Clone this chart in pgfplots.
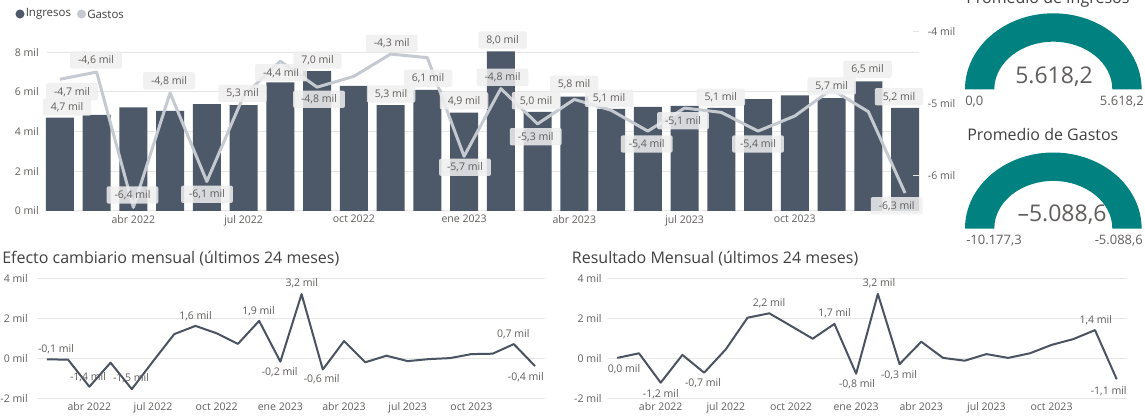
\documentclass[border=0pt]{standalone}
\usepackage{fontspec}
\setmainfont{Open Sans}
\usepackage{pgfplots}
\pgfplotsset{compat=1.18}
\definecolor{barc}{HTML}{4D5969}
\definecolor{gastc}{HTML}{C5CAD1}
\definecolor{linec}{HTML}{4A5361}
\definecolor{gridc}{HTML}{E6E6E6}
\definecolor{tickc}{HTML}{605E5C}
\definecolor{labc}{HTML}{605E5C}
\definecolor{boxc}{HTML}{EFEFEF}
\definecolor{titc}{HTML}{404040}
\definecolor{tealc}{HTML}{01817F}
\newcommand\fs[1]{\fontsize{#1}{#1}\selectfont}
\pgfplotsset{
  base/.style={scale only axis, anchor=south west, clip=false,
    axis line style={draw=none}, tick style={draw=none},
    grid style={gridc, line width=0.75pt}, ymajorgrids,
    ticklabel style={font=\fs{7.9pt}, text=tickc},
    xtick={2,5,8,11,14,17,20},
    xticklabels={abr 2022,jul 2022,oct 2022,ene 2023,abr 2023,jul 2023,oct 2023},
    xticklabel style={anchor=north, inner sep=0pt, yshift=-3pt}},
}
\tikzset{
  lbl/.style={font=\fs{7.9pt}, text=labc, fill=boxc, fill opacity=0.85, text opacity=1,
    rounded corners=1.5pt, inner xsep=6pt, inner ysep=2pt, text height=0.72em, text depth=0.18em},
  plb/.style={font=\fs{7.9pt}, text=labc, inner sep=0pt},
}
\begin{document}
\begin{tikzpicture}[x=0.75pt,y=-0.75pt]
\useasboundingbox (0,0) rectangle (1145,417);
\clip (0,0) rectangle (1145,417);

% ---------- top chart: Ingresos (bars) ----------
\begin{axis}[base, at={(35.25pt,-158.25pt)}, width=654pt, height=137.25pt,
  xmin=-0.35, xmax=23.38, ymin=0, ymax=9.22,
  ytick={0,2,4,6,8}, yticklabels={0 mil,2 mil,4 mil,6 mil,8 mil},
  yticklabel style={anchor=east, inner sep=0pt, xshift=-6pt}]
\addplot[ybar, bar width=21pt, fill=barc, draw=none] coordinates {
(0,4.70) (1,4.84) (2,5.22) (3,5.05) (4,5.39) (5,5.34) (6,6.48) (7,7.05)
(8,6.30) (9,5.34) (10,6.10) (11,4.95) (12,8.04) (13,5.00) (14,5.76) (15,5.14)
(16,5.25) (17,5.29) (18,5.19) (19,5.64) (20,5.83) (21,5.69) (22,6.53) (23,5.20)};
\end{axis}
% ---------- top chart: Gastos (line, right axis) ----------
\begin{axis}[base, at={(35.25pt,-158.25pt)}, width=654pt, height=137.25pt,
  xmin=-0.35, xmax=23.38, ymin=-6.49, ymax=-3.948, ymajorgrids=false,
  xtick=\empty, ytick={-6,-5,-4}, yticklabels={-6 mil,-5 mil,-4 mil},
  yticklabel pos=right, ytick pos=right,
  ytick style={draw=gridc, line width=0.75pt}, major tick length=4.5pt, tick align=inside,
  yticklabel style={anchor=west, inner sep=0pt, xshift=6.5pt}]
\addplot[gastc, line width=2.25pt, line join=round] coordinates {
(0,-4.66) (1,-4.56) (2,-6.44) (3,-4.85) (4,-6.08) (5,-4.89) (6,-4.41) (7,-4.77)
(8,-4.62) (9,-4.31) (10,-4.36) (11,-5.73) (12,-4.79) (13,-5.28) (14,-4.94) (15,-5.09)
(16,-5.38) (17,-5.06) (18,-5.12) (19,-5.38) (20,-5.17) (21,-4.80) (22,-5.11) (23,-6.24)};
\end{axis}

% data labels top chart
\node[lbl] at (72,91.7) {-4,7 mil};
\node[lbl] at (67,107) {4,7 mil};
\node[lbl] at (96,60) {-4,6 mil};
\node[lbl] at (132.5,195) {-6,4 mil};
\node[lbl] at (169,80.7) {-4,8 mil};
\node[lbl] at (207,194.3) {-6,1 mil};
\node[lbl] at (242.5,93.3) {5,3 mil};
\node[lbl] at (281,72.7) {-4,4 mil};
\node[lbl] at (317.5,60) {7,0 mil};
\node[lbl] at (319,99.3) {-4,8 mil};
\node[lbl] at (391.7,43.3) {-4,3 mil};
\node[lbl] at (391,94) {5,3 mil};
\node[lbl] at (428,78.3) {6,1 mil};
\node[lbl] at (464,100.7) {4,9 mil};
\node[lbl] at (465,167.3) {-5,7 mil};
\node[lbl] at (502.5,40) {8,0 mil};
\node[lbl] at (502.5,77.3) {-4,8 mil};
\node[lbl] at (536,100.7) {5,0 mil};
\node[lbl] at (535.7,136.7) {-5,3 mil};
\node[lbl] at (574,84.3) {5,8 mil};
\node[lbl] at (609,98.3) {5,1 mil};
\node[lbl] at (646.7,144) {-5,4 mil};
\node[lbl] at (683,120.7) {-5,1 mil};
\node[lbl] at (720.8,97.3) {5,1 mil};
\node[lbl] at (758,144) {-5,4 mil};
\node[lbl] at (831.7,86) {5,7 mil};
\node[lbl] at (867.5,69.3) {6,5 mil};
\node[lbl] at (899,96.7) {5,2 mil};
\node[lbl] at (896.7,205.7) {-6,3 mil};

% legend
\fill[barc] (20,14) circle[radius=3.4pt];
\node[anchor=west, inner sep=0pt, font=\fs{8.6pt}, text=titc] at (25.5,14) {Ingresos};
\fill[gastc] (81.5,14) circle[radius=3.4pt];
\node[anchor=west, inner sep=0pt, font=\fs{8.6pt}, text=titc] at (87,14) {Gastos};

% ---------- bottom left ----------
\node[anchor=west, inner sep=0pt, font=\fs{12pt}, text=titc] at (2,259) {Efecto cambiario mensual (últimos 24 meses)};
\begin{axis}[base, at={(28.5pt,-298.725pt)}, width=380.25pt, height=90pt,
  xmin=-0.42, xmax=23.47, ymin=-2, ymax=4,
  ytick={-2,0,2,4}, yticklabels={-2 mil,0 mil,2 mil,4 mil},
  yticklabel style={anchor=east, inner sep=0pt, xshift=-7.5pt}]
\addplot[linec, line width=1.5pt, line join=round] coordinates {
(0,-0.05) (1,-0.07) (2,-1.42) (3,-0.22) (4,-1.54) (5,-0.15) (6,1.21) (7,1.62)
(8,1.25) (9,0.72) (10,1.87) (11,-0.17) (12,3.21) (13,-0.56) (14,0.86) (15,-0.20)
(16,0.13) (17,-0.14) (18,-0.04) (19,0.01) (20,0.21) (21,0.23) (22,0.71) (23,-0.39)};
\end{axis}
\node[plb] at (56,349.3) {-0,1 mil};
\node[plb] at (88,376.7) {-1,4 mil};
\node[plb] at (131,377.7) {-1,5 mil};
\node[plb] at (195.5,316) {1,6 mil};
\node[plb] at (258.5,311) {1,9 mil};
\node[plb] at (279.7,372.3) {-0,2 mil};
\node[plb] at (301.8,283.3) {3,2 mil};
\node[plb] at (321.7,379.3) {-0,6 mil};
\node[plb] at (513.3,334.3) {0,7 mil};
\node[plb] at (525.8,377.3) {-0,4 mil};

% ---------- bottom right ----------
\node[anchor=west, inner sep=0pt, font=\fs{12pt}, text=titc] at (571.7,258.7) {Resultado Mensual (últimos 24 meses)};
\begin{axis}[base, at={(455.775pt,-298.725pt)}, width=389.25pt, height=90pt,
  xmin=-0.44, xmax=23.46, ymin=-2, ymax=4,
  ytick={-2,0,2,4}, yticklabels={-2 mil,0 mil,2 mil,4 mil},
  yticklabel style={anchor=east, inner sep=0pt, xshift=-4.5pt}]
\addplot[linec, line width=1.5pt, line join=round] coordinates {
(0,0.02) (1,0.25) (2,-1.22) (3,0.17) (4,-0.72) (5,0.45) (6,2.03) (7,2.25)
(8,1.62) (9,0.98) (10,1.72) (11,-0.77) (12,3.22) (13,-0.29) (14,0.83) (15,0.02)
(16,-0.12) (17,0.21) (18,0.02) (19,0.25) (20,0.67) (21,0.96) (22,1.41) (23,-1.05)};
\end{axis}
\node[plb] at (624,369.3) {0,0 mil};
\node[plb] at (660.8,394) {-1,2 mil};
\node[plb] at (703,383.3) {-0,7 mil};
\node[plb] at (769,303.3) {2,2 mil};
\node[plb] at (834.5,313.3) {1,7 mil};
\node[plb] at (857,384) {-0,8 mil};
\node[plb] at (879,283.3) {3,2 mil};
\node[plb] at (899,375) {-0,3 mil};
\node[plb] at (1095.8,320) {1,4 mil};
\node[plb] at (1108.7,390.7) {-1,1 mil};

% ---------- gauges ----------
\node[anchor=base west, inner sep=0pt, font=\fs{12pt}, text=titc] at (966,4) {Promedio de Ingresos};
\fill[tealc] (965,89.3) arc[start angle=180, end angle=0, x radius=66.225pt, y radius=57pt]
  -- ++(-21.975pt,0) arc[start angle=0, end angle=180, x radius=44.25pt, y radius=35.7pt] -- cycle;
\node[anchor=base, inner sep=0pt, font=\fs{17.25pt}, text=tickc] at (1054,83.3) {5.618,2};
\node[anchor=base west, inner sep=0pt, font=\fs{9.75pt}, text=tickc] at (965,106) {0,0};
\node[anchor=base east, inner sep=0pt, font=\fs{9.75pt}, text=tickc] at (1144,106) {5.618,2};

\node[anchor=west, inner sep=0pt, font=\fs{12pt}, text=titc] at (967,135) {Promedio de Gastos};
\fill[tealc] (965,228.5) arc[start angle=180, end angle=0, x radius=66.225pt, y radius=57pt]
  -- ++(-21.975pt,0) arc[start angle=0, end angle=180, x radius=44.25pt, y radius=35.7pt] -- cycle;
\node[anchor=base, inner sep=0pt, font=\fs{17.25pt}, text=tickc] at (1062,221.7) {–5.088,6};
\node[anchor=base west, inner sep=0pt, font=\fs{9.75pt}, text=tickc] at (966,244) {-10.177,3};
\node[anchor=base east, inner sep=0pt, font=\fs{9.75pt}, text=tickc] at (1143,244) {-5.088,6};
\end{tikzpicture}
\end{document}
